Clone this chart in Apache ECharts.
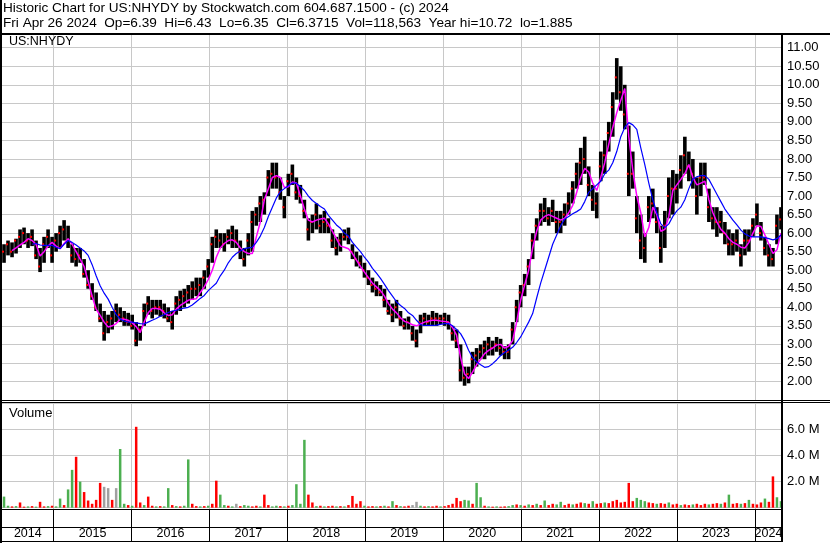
<!DOCTYPE html>
<html><head><meta charset="utf-8">
<script src="https://cdn.jsdelivr.net/npm/echarts@6/dist/echarts.min.js"></script>
<style>html,body{margin:0;padding:0;background:#fff}#c{width:830px;height:543px}</style>
</head><body><div id="c"></div>
<script>
// ---- time frame (decimal years) ----
const T_MIN = 2014.338, T_MAX = 2024.347;
const S0 = 2014.364, DT = 0.05139; // evenly spaced samples (approx. every 2.7 weeks)

// ---- price ranges per sample ----
const lo = [5.2,5.4,5.35,5.45,5.6,5.7,5.6,5.65,5.3,4.95,
5.2,5.6,5.2,5.5,5.6,5.8,5.6,5.2,5.1,5.2,
4.8,4.5,4.2,3.9,3.6,3.1,3.3,3.4,3.6,3.6,
3.5,3.5,3.4,2.95,3.1,3.5,3.8,3.7,3.8,3.75,
3.7,3.6,3.4,3.8,3.9,4.0,4.1,4.2,4.3,4.3,
4.5,4.8,5.2,5.6,5.6,5.5,5.7,5.6,5.6,5.3,
5.1,5.4,5.5,6.2,6.3,6.5,7.0,7.2,7.2,6.9,
6.4,7.0,7.3,6.9,6.8,6.4,5.8,6.0,6.1,6.0,
6.0,6.0,5.6,5.4,5.5,5.8,5.7,5.3,5.1,5.05,
4.8,4.6,4.4,4.3,4.3,4.0,3.8,3.6,3.7,3.5,
3.4,3.4,3.1,2.92,3.3,3.5,3.5,3.5,3.5,3.55,
3.5,3.4,3.1,2.9,2.0,1.885,1.95,2.2,2.4,2.6,
2.6,2.7,2.7,2.8,2.7,2.6,2.6,3.0,3.6,4.0,
4.3,4.6,5.3,5.8,6.2,6.3,6.2,6.3,6.0,6.0,
6.2,6.5,6.8,7.2,7.3,7.6,7.0,6.6,6.4,7.4,
7.6,8.2,8.6,9.6,9.3,8.8,7.0,7.2,6.0,5.3,
5.2,6.3,6.4,6.0,5.2,5.6,6.4,6.5,6.8,7.2,
7.6,7.4,7.2,6.5,7.0,7.3,6.3,6.1,5.9,6.0,
5.7,5.4,5.4,5.5,5.1,5.4,5.5,5.9,6.2,5.8,
5.4,5.1,5.1,5.7,6.1];
const hi = [5.7,5.8,5.75,5.85,6.1,6.15,6.0,6.1,5.8,5.6,
5.9,6.1,5.9,6.0,6.2,6.35,6.2,5.7,5.6,5.6,
5.3,5.0,4.65,4.4,4.1,3.9,3.8,3.9,4.1,4.0,
3.9,3.85,3.8,3.6,3.5,4.1,4.3,4.2,4.2,4.2,
4.1,4.0,3.9,4.3,4.45,4.5,4.6,4.7,4.8,4.8,
5.0,5.3,5.9,6.1,6.0,6.0,6.1,6.2,6.1,5.8,
5.6,6.0,6.6,6.7,7.0,7.1,7.7,7.9,7.9,7.5,
7.0,7.6,7.85,7.5,7.3,6.9,6.4,6.5,6.8,6.5,
6.6,6.4,6.1,5.9,6.0,6.1,6.15,5.7,5.5,5.4,
5.2,5.0,4.8,4.7,4.6,4.5,4.2,4.1,4.2,3.9,
3.7,3.75,3.5,3.4,3.8,3.85,3.8,3.9,3.85,3.8,
3.85,3.8,3.5,3.4,3.0,2.4,2.4,2.8,2.9,3.0,
3.1,3.2,3.1,3.2,3.15,2.95,3.0,3.6,4.2,4.6,
4.9,5.3,6.0,6.4,6.8,6.95,6.7,6.9,6.6,6.6,
6.8,7.1,7.4,7.9,8.3,8.6,7.8,7.3,7.1,8.2,
8.5,9.0,9.8,10.72,10.5,10.0,8.9,8.2,7.0,6.5,
6.0,7.0,7.2,6.7,6.2,6.6,7.5,7.7,7.6,8.1,
8.6,8.2,8.0,7.5,7.9,7.9,7.2,6.7,6.7,6.6,
6.3,6.1,6.0,6.1,5.7,6.1,6.1,6.4,6.8,6.3,
5.9,5.7,5.6,6.5,6.7];
const cl = [5.5,5.7,5.5,5.8,5.9,6.0,5.8,5.9,5.4,5.1,
5.7,5.9,5.4,5.8,6.0,6.1,5.8,5.4,5.3,5.4,
4.9,4.6,4.3,4.0,3.7,3.3,3.6,3.7,3.9,3.8,
3.7,3.6,3.5,3.1,3.4,3.9,4.1,3.9,4.0,4.0,
3.9,3.7,3.6,4.1,4.2,4.3,4.4,4.5,4.5,4.6,
4.8,5.1,5.7,5.9,5.8,5.7,5.9,6.0,5.8,5.5,
5.3,5.8,6.3,6.5,6.8,6.9,7.5,7.6,7.5,7.1,
6.7,7.4,7.6,7.1,7.0,6.6,6.1,6.3,6.5,6.2,
6.3,6.2,5.8,5.6,5.8,5.9,5.9,5.5,5.3,5.2,
5.0,4.8,4.6,4.5,4.4,4.2,3.9,3.8,4.0,3.7,
3.5,3.6,3.3,3.1,3.6,3.7,3.6,3.7,3.7,3.7,
3.7,3.6,3.3,3.1,2.3,2.1,2.2,2.6,2.7,2.8,
2.9,3.0,2.9,3.0,2.9,2.8,2.8,3.4,4.0,4.4,
4.6,5.1,5.8,6.2,6.6,6.6,6.4,6.6,6.3,6.3,
6.5,6.8,7.2,7.6,7.9,8.0,7.3,6.9,6.8,7.8,
8.1,8.7,9.4,10.2,9.8,9.2,7.6,7.6,6.4,5.8,
5.6,6.7,6.8,6.3,5.6,6.2,7.0,7.2,7.2,7.7,
8.1,7.8,7.6,7.0,7.5,7.5,6.7,6.4,6.3,6.3,
6.0,5.7,5.7,5.8,5.4,5.8,5.8,6.2,6.5,6.0,
5.6,5.4,5.3,6.2,6.37];

// ---- moving averages (short = magenta, long = blue) ----
const maShort = [null,null,5.53,5.6,5.68,5.75,5.85,5.8,5.7,5.38,
5.5,5.65,5.75,5.65,5.58,5.72,5.85,5.7,5.5,5.3,
5.1,4.7,4.3,3.95,3.78,3.6,3.47,3.5,3.56,3.68,
3.68,3.65,3.58,3.48,3.32,3.6,3.85,3.97,3.97,3.95,
3.85,3.78,3.8,3.95,4.05,4.12,4.19,4.22,4.23,4.4,
4.55,4.75,5.0,5.35,5.6,5.72,5.8,5.82,5.75,5.6,
5.5,5.45,5.45,5.9,6.3,6.9,7.2,7.5,7.55,7.5,
7.23,7.25,7.38,7.35,7.0,6.65,6.35,6.3,6.35,6.38,
6.4,6.25,6.05,5.85,5.65,5.62,5.58,5.45,5.27,5.1,
4.95,4.8,4.65,4.55,4.45,4.3,4.1,3.95,3.85,3.72,
3.62,3.58,3.53,3.5,3.55,3.6,3.63,3.65,3.65,3.63,
3.62,3.6,3.45,3.25,2.65,2.2,2.08,2.25,2.45,2.6,
2.75,2.84,2.9,2.98,3.0,2.9,2.95,3.1,3.6,4.19,
4.6,5.0,5.6,6.05,6.35,6.45,6.5,6.45,6.4,6.35,
6.4,6.55,6.75,7.1,7.5,7.75,7.65,7.35,7.15,7.5,
7.9,8.4,8.85,9.25,9.58,9.9,8.6,7.7,7.0,6.55,
5.9,6.15,6.7,6.5,6.05,6.1,6.45,7.15,7.3,7.45,
7.6,7.85,7.5,7.3,7.35,7.4,6.9,6.55,6.3,6.1,
6.0,5.85,5.75,5.7,5.62,5.6,5.75,6.0,6.2,6.18,
5.95,5.7,5.45,5.55,6.0];
const maLong = [null,null,null,null,null,null,null,5.7,5.72,5.68,
5.67,5.67,5.67,5.62,5.58,5.7,5.8,5.75,5.68,5.6,
5.52,5.4,5.15,4.85,4.58,4.38,4.22,4.0,3.8,3.68,
3.63,3.6,3.6,3.58,3.56,3.55,3.6,3.65,3.7,3.76,
3.8,3.86,3.9,3.92,3.95,3.98,4.0,4.06,4.15,4.24,
4.32,4.45,4.55,4.65,4.85,5.0,5.2,5.35,5.45,5.52,
5.58,5.6,5.62,5.75,5.92,6.15,6.45,6.7,6.95,7.12,
7.2,7.28,7.35,7.35,7.25,7.15,7.0,6.88,6.8,6.72,
6.65,6.48,6.35,6.22,6.13,6.0,5.92,5.75,5.62,5.5,
5.35,5.22,5.05,4.92,4.78,4.62,4.45,4.3,4.15,4.05,
3.97,3.85,3.78,3.65,3.53,3.51,3.51,3.51,3.52,3.54,
3.56,3.56,3.5,3.4,3.29,3.1,2.84,2.65,2.53,2.45,
2.38,2.4,2.48,2.58,2.7,2.78,2.85,2.92,3.05,3.2,
3.4,3.6,3.83,4.25,4.65,5.0,5.35,5.7,5.95,6.2,
6.38,6.45,6.52,6.58,6.65,6.85,7.1,7.2,7.3,7.4,
7.6,7.7,7.9,8.2,8.6,8.85,8.98,8.92,8.8,8.3,
7.85,7.35,6.9,6.55,6.25,6.15,6.25,6.45,6.6,6.7,
6.9,7.2,7.45,7.52,7.55,7.55,7.45,7.25,7.05,6.85,
6.65,6.5,6.35,6.22,6.08,5.98,5.92,5.9,5.9,5.9,
5.88,5.85,5.82,5.85,5.95];

// ---- volume (millions) and direction (g up, r down, n unchanged) ----
const vol = [.85,.15,.1,.12,.4,.08,.1,.12,.08,.45,
.1,.12,.15,.1,.7,.2,1.4,2.9,3.9,2.0,
1.2,.55,.3,.6,1.9,1.6,1.5,.6,1.5,4.5,
.3,.2,.15,6.2,.4,.2,.85,.15,.1,.12,
.1,1.5,.2,.12,.1,.15,3.7,.3,.12,.1,
.12,.15,.3,2.07,1.0,.2,.15,.1,.3,.12,
.2,.15,.1,.15,.1,1.0,.2,.1,.15,.12,
.1,.15,.2,1.8,.3,5.2,1.0,.4,.12,.15,
.1,.12,.15,.1,.12,.1,.2,.9,.3,.5,
.15,.1,.12,.1,.12,.15,.1,.5,.2,.12,
.1,.15,.2,.45,.15,.1,.12,.1,.15,.1,
.12,.2,.3,.75,.5,.6,.55,.3,1.9,.8,
.15,.1,.08,.1,.08,.1,.12,.2,.25,.2,
.15,.25,.2,.3,.2,.55,.2,.3,.25,.45,
.2,.3,.25,.3,.4,.35,.3,.5,.3,.35,
.4,.35,.5,.6,.4,.45,1.9,.5,.75,.6,
.5,.4,.35,.3,.35,.3,.4,.25,.3,.2,
.25,.2,.25,.3,.2,.3,.25,.3,.35,.3,
.4,1.0,.3,.35,.3,.35,.6,.3,.25,.4,
.7,.45,2.4,.8,.5];
const volDir = ("ggrgrrgrgr"+"rgrggrggrg"+"rrrrrnnrng"+"grgrrgrrgr"+"ggrgrggrrg"+
"rgrrggrgnr"+"ggrrgrrggr"+"grggggrrgr"+"grrgrgrrrr"+"grrgrgrgrg"+
"rrnngrgrrg"+"rrrrrggrgg"+"rgrgrrggrg"+"rgrgrgrrgg"+"rrgrrgrgrr"+
"grrrrrrrgg"+"grrgrrgrrg"+"rrgrrrgrrg"+"rgrrgrgrrr"+"grrgg").split('');

const years = ['2014','2015','2016','2017','2018','2019','2020','2021','2022','2023','2024'];

const titleLine1 = 'Historic Chart for US:NHYDY by Stockwatch.com 604.687.1500 - (c) 2024';
const titleLine2 = 'Fri Apr 26 2024  Op=6.39  Hi=6.43  Lo=6.35  Cl=6.3715  Vol=118,563  Year hi=10.72  lo=1.885';

// ---- build ----
const FONT = '"Liberation Sans", Arial, sans-serif';
const tAt = i => +(S0 + i * DT).toFixed(5);
const barData = lo.map((l, i) => [tAt(i), l, hi[i], cl[i]]);
const lineData = arr => arr.map((v, i) => v == null ? null : [tAt(i), v]).filter(Boolean);
const dirColor = {g: '#4caf50', r: '#ff0000', n: '#a0a0a0'};
const volData = vol.map((v, i) => ({value: [tAt(i), v], itemStyle: {color: dirColor[volDir[i]]}}));
const yearData = years.map(y => [Math.max(+y, T_MIN), Math.min(+y + 1, T_MAX)]);

const chart = echarts.init(document.getElementById('c'), null, {renderer: 'canvas'});
const xAx = (k, color) => ({
  type: 'value', gridIndex: k, min: T_MIN, max: T_MAX, minInterval: 1, maxInterval: 1, splitNumber: 10,
  axisLine: {show: false}, axisTick: {show: false}, axisLabel: {show: false},
  splitLine: {show: true, showMinLine: false, showMaxLine: false, lineStyle: {color: color, width: 1}}
});
const tStyle = (size) => ({fontSize: size, fontWeight: 'normal', color: '#000', fontFamily: FONT});
const blackLine = (x1, y1, x2, y2, w) => ({type: 'line', z: 100, silent: true,
  shape: {x1, y1, x2, y2}, style: {stroke: '#000', lineWidth: w}});

chart.setOption({
  animation: false,
  backgroundColor: '#fff',
  title: [
    {text: titleLine1, left: 3, top: 1.5, padding: 0, textStyle: tStyle(13.6)},
    {text: titleLine2, left: 3, top: 16, padding: 0, textStyle: tStyle(13.6)},
    {text: 'US:NHYDY', left: 9, top: 35.5, padding: 0, textStyle: tStyle(12.5)},
    {text: 'Volume', left: 9, top: 406.5, padding: 0, textStyle: tStyle(13)}
  ],
  grid: [
    {left: 2, right: 48, top: 34, height: 366},
    {left: 2, right: 48, top: 402, height: 107},
    {left: 2, right: 48, top: 509, height: 32}
  ],
  xAxis: [xAx(0, '#c8c8c8'), xAx(1, '#c8c8c8'), xAx(2, '#000')],
  yAxis: [
    {type: 'value', gridIndex: 0, position: 'right', min: 1.5, max: 11.37, interval: 0.5,
     axisLine: {show: false}, axisTick: {show: false},
     axisLabel: {margin: 5, fontSize: 13, color: '#000', fontFamily: FONT,
       formatter: v => (v >= 2 && v <= 11.001 && Math.abs(v * 2 - Math.round(v * 2)) < 1e-6) ? v.toFixed(2) : ''},
     splitLine: {show: true, showMinLine: false, showMaxLine: false, lineStyle: {color: '#c8c8c8', width: 1}}},
    {type: 'value', gridIndex: 1, position: 'right', min: -0.1, max: 8.1, minInterval: 2, maxInterval: 2, splitNumber: 4,
     axisLine: {show: false}, axisTick: {show: false},
     axisLabel: {margin: 5, fontSize: 13, color: '#000', fontFamily: FONT,
       formatter: v => (v === 2 || v === 4 || v === 6) ? v.toFixed(1) + ' M' : ''},
     splitLine: {show: true, showMinLine: false, showMaxLine: false, lineStyle: {color: '#c8c8c8', width: 1}}},
    {type: 'value', gridIndex: 2, inverse: true, min: 0, max: 32, interval: 18,
     axisLine: {show: false}, axisTick: {show: false}, axisLabel: {show: false},
     splitLine: {show: true, showMinLine: false, showMaxLine: false, lineStyle: {color: '#000', width: 1}}}
  ],
  series: [
    {
      type: 'custom', name: 'price', xAxisIndex: 0, yAxisIndex: 0, data: barData,
      encode: {x: 0, y: [1, 2, 3]},
      renderItem: (params, api) => {
        const t = api.value(0);
        const pH = api.coord([t, api.value(2)]);
        const pL = api.coord([t, api.value(1)]);
        const pC = api.coord([t, api.value(3)]);
        return {type: 'group', children: [
          {type: 'rect', shape: {x: pH[0] - 1.8, y: pH[1], width: 3.6, height: Math.max(1, pL[1] - pH[1])}, style: {fill: '#000'}},
          {type: 'rect', shape: {x: pC[0] - 2, y: pC[1] - 1, width: 2, height: 2}, style: {fill: '#ff0000'}}
        ]};
      }
    },
    {type: 'line', name: 'MA short', xAxisIndex: 0, yAxisIndex: 0, data: lineData(maShort),
     showSymbol: false, lineStyle: {color: '#ff00ff', width: 1.5}, z: 3},
    {type: 'line', name: 'MA long', xAxisIndex: 0, yAxisIndex: 0, data: lineData(maLong),
     showSymbol: false, lineStyle: {color: '#0000ff', width: 1.2}, z: 4},
    {type: 'bar', name: 'Volume', xAxisIndex: 1, yAxisIndex: 1, data: volData, barWidth: 2.5, barGap: '0%'},
    {
      type: 'custom', name: 'years', xAxisIndex: 2, yAxisIndex: 2, data: yearData, clip: false,
      encode: {x: [0, 1]},
      renderItem: (params, api) => {
        const a = api.coord([api.value(0), 25]);
        const b = api.coord([api.value(1), 25]);
        return {type: 'text', style: {text: years[params.dataIndex], x: (a[0] + b[0]) / 2, y: a[1],
          align: 'center', verticalAlign: 'middle', fill: '#000', font: '12.5px ' + FONT}};
      }
    }
  ],
  graphic: [
    blackLine(0, 34, 830, 34, 2),
    blackLine(0, 400.5, 830, 400.5, 1),
    blackLine(0, 402.5, 830, 402.5, 1),
    blackLine(0, 509.5, 782, 509.5, 1),
    blackLine(0, 541.5, 782, 541.5, 1),
    blackLine(1, 0, 1, 543, 2),
    blackLine(782, 34, 782, 542, 2)
  ]
});
</script></body></html>
